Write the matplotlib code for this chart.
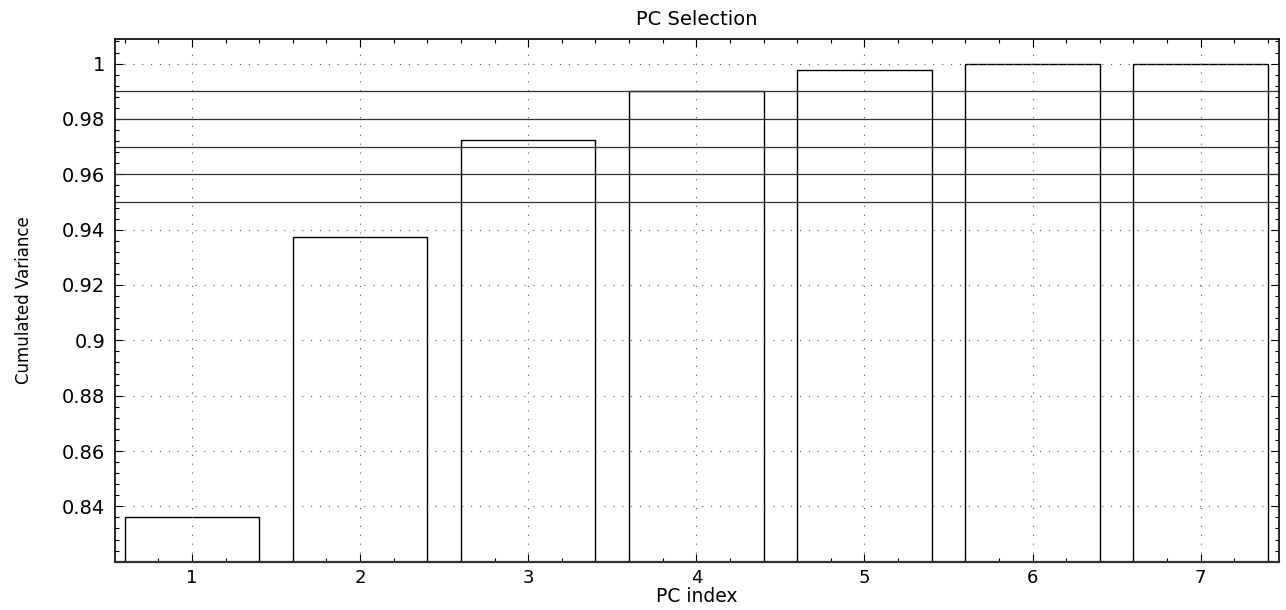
import matplotlib
matplotlib.use("Agg")
import matplotlib.pyplot as plt
import numpy as np
from matplotlib.ticker import AutoMinorLocator, FuncFormatter

pc_index = [1, 2, 3, 4, 5, 6, 7]
cum_var = [0.8362, 0.9375, 0.9723, 0.9901, 0.9978, 0.9997, 1.0000]
thresholds = [0.95, 0.96, 0.97, 0.98, 0.99]
y_ticks = [0.84, 0.86, 0.88, 0.90, 0.92, 0.94, 0.96, 0.98, 1.00]

plt.rcParams['font.family'] = ['DejaVu Sans']

fig = plt.figure(figsize=(12.86, 6.10), dpi=100)
ax = fig.add_axes([0.0894, 0.0792, 0.9052, 0.8564])

ax.bar(pc_index, cum_var, width=0.8, color='white', edgecolor='black',
       linewidth=1.0, zorder=2)
for t in thresholds:
    ax.axhline(t, color='#333333', linewidth=0.9, zorder=3)

ax.set_xlim(0.542, 7.466)
ax.set_ylim(0.82, 1.0088)
ax.set_xticks(pc_index)
ax.set_yticks(y_ticks)
ax.yaxis.set_major_formatter(FuncFormatter(lambda v, p: '%g' % round(v, 2)))
ax.yaxis.set_minor_locator(AutoMinorLocator(5))
ax.xaxis.set_minor_locator(AutoMinorLocator(5))
ax.tick_params(which='both', direction='in', top=True, right=True,
               labelsize=14, width=0.8)
ax.tick_params(axis='x', labelsize=13, pad=5)
ax.tick_params(axis='y', pad=7)
ax.tick_params(which='major', length=6)
ax.tick_params(which='minor', length=3)

ax.set_axisbelow(False)
ax.grid(True, which='major', linestyle=(0, (1, 7)), color='#555555',
        linewidth=0.8, zorder=4)

for s in ax.spines.values():
    s.set_linewidth(1.2)
    s.set_zorder(5)
ax.spines['bottom'].set_color('#333333')
ax.spines['bottom'].set_linewidth(1.6)

ax.set_title('PC Selection', fontsize=14, pad=10)
ax.set_xlabel('PC index', fontsize=13.5, va='top')
ax.xaxis.set_label_coords(0.5, -0.0475)
ax.set_ylabel('Cumulated Variance', fontsize=12)
ax.yaxis.set_label_coords(-0.0704, 0.5)

fig.savefig('out.png', dpi=100)
